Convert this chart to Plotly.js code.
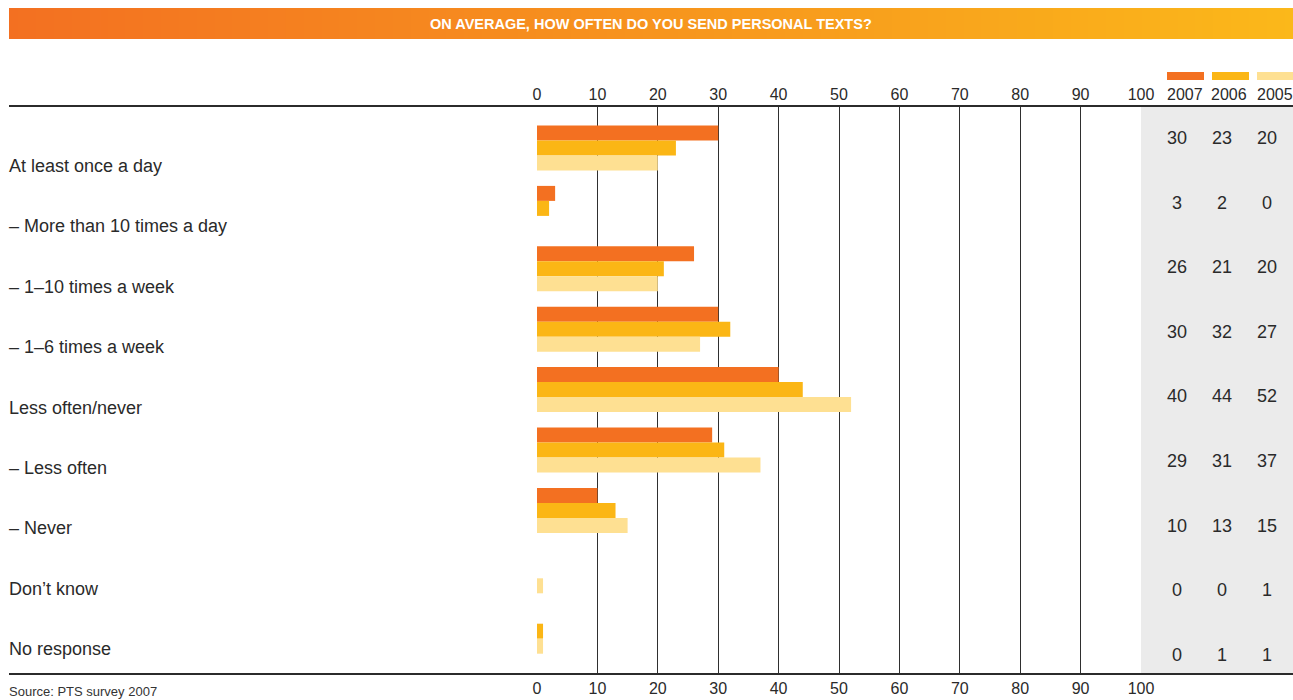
<!DOCTYPE html>
<html>
<head>
<meta charset="utf-8">
<script src="https://cdn.plot.ly/plotly-3.0.1.min.js"></script>
<style>
  html, body { margin: 0; padding: 0; background: #fff; }
  #chart { width: 1293px; height: 700px; }
</style>
</head>
<body>
<div id="chart"></div>
<script>
// Survey answers: how often personal texts are sent (percent)
const categories = [
  'At least once a day',
  '– More than 10 times a day',
  '– 1–10 times a week',
  '– 1–6 times a week',
  'Less often/never',
  '– Less often',
  '– Never',
  'Don’t know',
  'No response'
];
const years = ['2007', '2006', '2005'];
const values2007 = [30, 3, 26, 30, 40, 29, 10, 0, 0];
const values2006 = [23, 2, 21, 32, 44, 31, 13, 0, 1];
const values2005 = [20, 0, 20, 27, 52, 37, 15, 1, 1];
const xTicks = [0, 10, 20, 30, 40, 50, 60, 70, 80, 90, 100];
const titleText = 'ON AVERAGE, HOW OFTEN DO YOU SEND PERSONAL TEXTS?';
const sourceText = 'Source: PTS survey 2007';

// Page geometry in pixels
const W = 1293, H = 700;
const PLOT_L = 537, PLOT_R = 1141, PLOT_T = 106, PLOT_B = 674;
const ROW0 = 148, ROW_PITCH = 60.4;          // centre of first bar group, spacing of groups
const LABEL_SHIFT = 18;                       // row labels sit slightly below group centre
const VALUE_Y0 = 138, VALUE_PITCH = 64.6;     // rows of numbers in the grey column
const valueCols = [1177, 1222, 1267];
const legendSwatch = [[1167, 1204], [1212, 1249], [1257, 1293]];
const legendTextX = [1185, 1229, 1275];

const colors = ['#F37021', '#FBB615', '#FEE092'];
const series = [values2007, values2006, values2005];

const px = x => x / W;
const py = y => 1 - y / H;

const FONT = 'Liberation Sans, Arial, sans-serif';
const TEXT = '#2a2a2a';

const traces = series.map((vals, i) => ({
  type: 'bar',
  orientation: 'h',
  name: years[i],
  x: vals,
  y: categories,
  marker: { color: colors[i], line: { width: 0 } },
  hoverinfo: 'x+name',
  xaxis: 'x',
  yaxis: 'y'
}));

// Invisible trace so the bottom copy of the value axis is drawn
traces.push({
  type: 'scatter', mode: 'markers', x: [0, 100], y: [categories[0], categories[0]],
  marker: { opacity: 0 }, hoverinfo: 'skip', showlegend: false,
  xaxis: 'x2', yaxis: 'y'
});

// Gradient heading bar
traces.push({
  type: 'heatmap',
  z: [[0, 1], [0, 1]], x: [0, 1], y: [0, 1],
  zsmooth: 'best',
  colorscale: [[0, '#F37021'], [1, '#FBB81A']],
  showscale: false, hoverinfo: 'skip',
  xaxis: 'x3', yaxis: 'y3'
});

const annotations = [];

// Heading text
annotations.push({
  xref: 'paper', yref: 'paper', x: px((9 + W) / 2), y: py(24),
  text: titleText, showarrow: false, xanchor: 'center', yanchor: 'middle',
  font: { family: FONT, size: 14.5, color: '#ffffff', weight: 'bold' }
});

// Row labels on the left
categories.forEach(c => {
  annotations.push({
    xref: 'paper', yref: 'y', x: px(7), y: c, yshift: -LABEL_SHIFT,
    text: c, showarrow: false, xanchor: 'left', yanchor: 'middle',
    font: { family: FONT, size: 18, color: TEXT }
  });
});

// Numbers in the grey column
categories.forEach((c, k) => {
  series.forEach((vals, j) => {
    annotations.push({
      xref: 'paper', yref: 'paper', x: px(valueCols[j]), y: py(VALUE_Y0 + k * VALUE_PITCH),
      text: String(vals[k]), showarrow: false, xanchor: 'center', yanchor: 'middle',
      font: { family: FONT, size: 18, color: TEXT }
    });
  });
});

// Legend labels
years.forEach((yr, j) => {
  annotations.push({
    xref: 'paper', yref: 'paper', x: px(legendTextX[j]), y: py(94),
    text: yr, showarrow: false, xanchor: 'center', yanchor: 'middle',
    font: { family: FONT, size: 16, color: TEXT }
  });
});

// Source note
annotations.push({
  xref: 'paper', yref: 'paper', x: px(7), y: py(691),
  text: sourceText, showarrow: false, xanchor: 'left', yanchor: 'middle',
  font: { family: FONT, size: 13, color: '#333' }
});

const shapes = [
  // grey value column
  { type: 'rect', xref: 'paper', yref: 'paper', layer: 'below',
    x0: px(PLOT_R), x1: 1, y0: py(PLOT_B), y1: py(PLOT_T),
    fillcolor: '#EBEBEB', line: { width: 0 } },
  // top and bottom rules
  { type: 'line', xref: 'paper', yref: 'paper', x0: px(9), x1: 1, y0: py(PLOT_T), y1: py(PLOT_T),
    line: { color: '#2b2b2b', width: 2 } },
  { type: 'line', xref: 'paper', yref: 'paper', x0: px(9), x1: 1, y0: py(PLOT_B), y1: py(PLOT_B),
    line: { color: '#2b2b2b', width: 2 } }
];
legendSwatch.forEach((s, j) => {
  shapes.push({ type: 'rect', xref: 'paper', yref: 'paper',
    x0: px(s[0]), x1: px(s[1]), y0: py(80), y1: py(72),
    fillcolor: colors[j], line: { width: 0 } });
});

const axisFont = { family: FONT, size: 16, color: TEXT };
const xCommon = {
  domain: [px(PLOT_L), px(PLOT_R)],
  range: [0, 100],
  tickvals: xTicks,
  ticktext: xTicks.map(String),
  showgrid: true, gridcolor: '#2f2f2f', gridwidth: 1,
  zeroline: false, showline: false, ticks: '',
  tickfont: axisFont, fixedrange: true
};

const layout = {
  width: W, height: H,
  margin: { l: 0, r: 0, t: 0, b: 0, pad: 0 },
  paper_bgcolor: '#ffffff', plot_bgcolor: 'rgba(0,0,0,0)',
  showlegend: false,
  barmode: 'group', bargap: 1 - 45 / ROW_PITCH, bargroupgap: 0,
  xaxis: Object.assign({}, xCommon, { side: 'top', anchor: 'y', ticklabelstandoff: 2 }),
  xaxis2: Object.assign({}, xCommon, { side: 'bottom', anchor: 'y', overlaying: 'x', showgrid: false, ticklabelstandoff: 3 }),
  yaxis: {
    domain: [py(PLOT_B), py(PLOT_T)],
    type: 'category',
    range: [(PLOT_B - ROW0) / ROW_PITCH, -(ROW0 - PLOT_T) / ROW_PITCH],
    showticklabels: false, showgrid: false, zeroline: false, showline: false, ticks: '',
    fixedrange: true
  },
  xaxis3: { domain: [px(9), 1], range: [0, 1], visible: false, anchor: 'y3', fixedrange: true },
  yaxis3: { domain: [py(39), py(8)], range: [0, 1], visible: false, anchor: 'x3', fixedrange: true },
  annotations: annotations,
  shapes: shapes,
  font: { family: FONT, color: TEXT }
};

Plotly.newPlot('chart', traces, layout, { displayModeBar: false, staticPlot: true });
</script>
</body>
</html>
